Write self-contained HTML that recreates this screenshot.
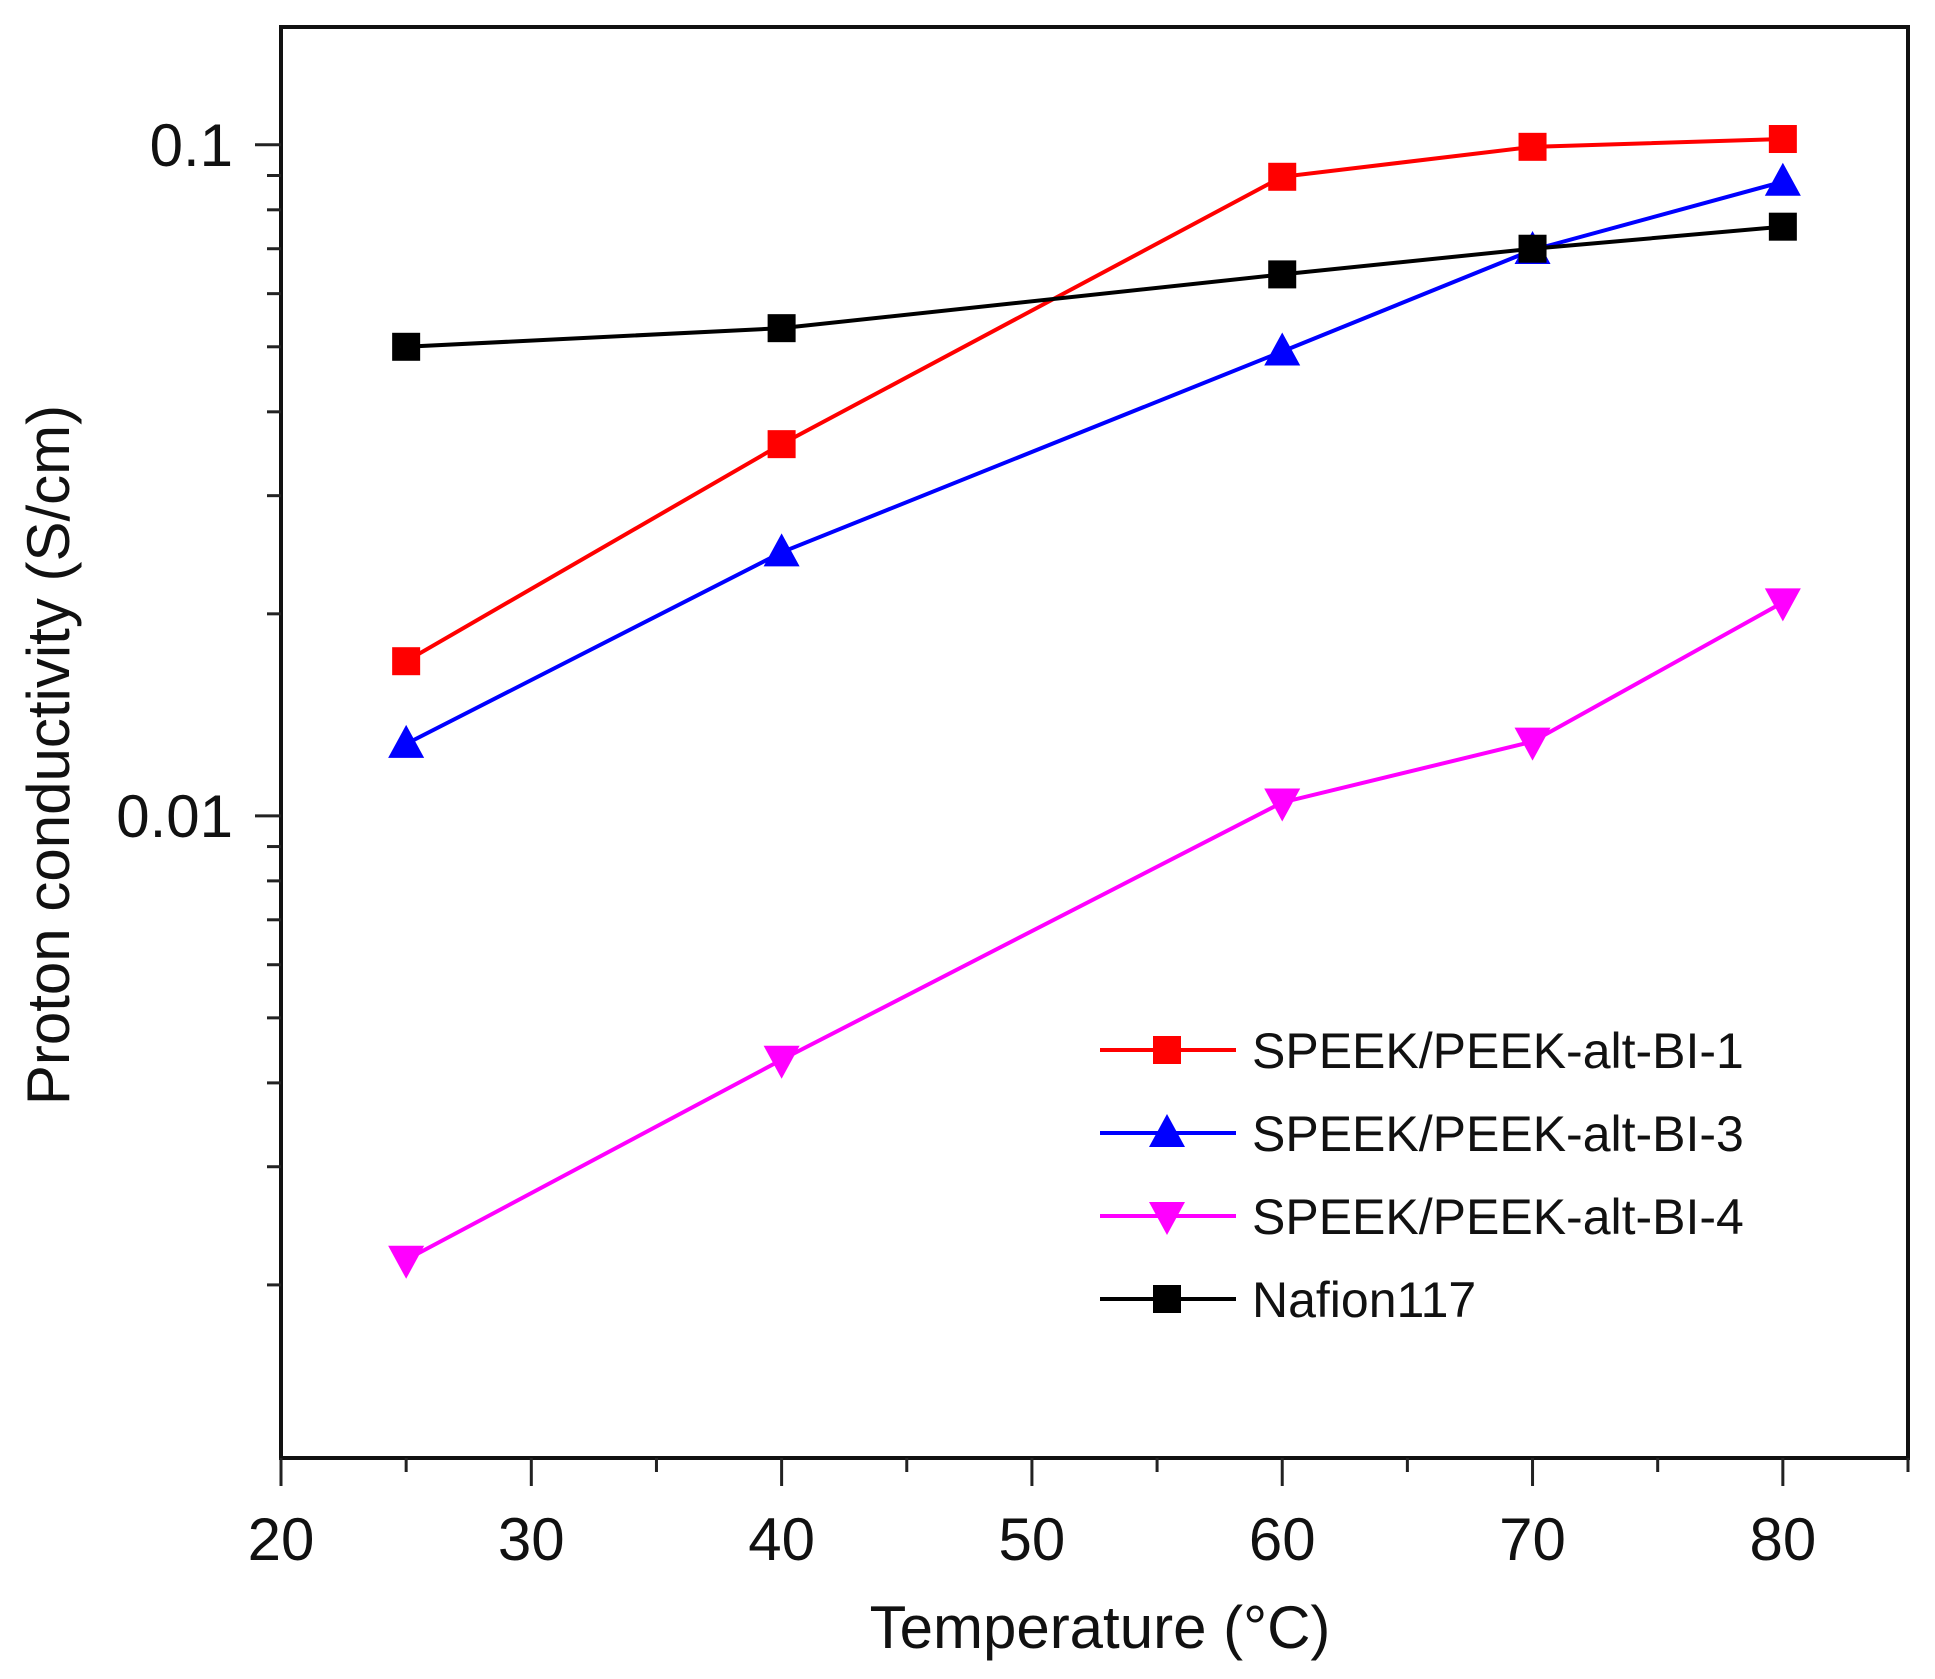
<!DOCTYPE html>
<html><head><meta charset="utf-8"><style>
html,body{margin:0;padding:0;background:#fff;}
svg{display:block;font-family:"Liberation Sans",Arial,sans-serif;}
</style></head><body>
<svg id="chart" width="1935" height="1679" viewBox="0 0 1935 1679" xmlns="http://www.w3.org/2000/svg">
<rect width="1935" height="1679" fill="#fff"/>
<g id="series"></g>
<g id="axes"></g>
<g id="legend"></g>
</svg>
<script>
const temps = [25, 40, 60, 70, 80];
const bi1 = [0.0170, 0.0358, 0.0896, 0.0993, 0.1020];
const bi3 = [0.0128, 0.0247, 0.0492, 0.0697, 0.0881];
const bi4 = [0.00218, 0.00433, 0.01047, 0.0129, 0.0208];
const nafion = [0.0500, 0.0533, 0.0641, 0.0700, 0.0755];
const xTicks = [20, 30, 40, 50, 60, 70, 80];
const xTickLabels = ["20", "30", "40", "50", "60", "70", "80"];
const yTicks = [0.01, 0.1];
const yTickLabels = ["0.01", "0.1"];
const seriesNames = ["SPEEK/PEEK-alt-BI-1", "SPEEK/PEEK-alt-BI-3", "SPEEK/PEEK-alt-BI-4", "Nafion117"];

const NS = "http://www.w3.org/2000/svg";
const L = 281, R = 1908, T = 27, B = 1458;
const X0 = 20, X1 = 85;
const Y0 = Math.log10(0.0011043), Y1 = Math.log10(0.1498);
function xs(v){ return L + (v - X0) / (X1 - X0) * (R - L); }
function ys(v){ return B - (Math.log10(v) - Y0) / (Y1 - Y0) * (B - T); }
function mk(tag, attrs, parent){
  const e = document.createElementNS(NS, tag);
  for (const k in attrs) e.setAttribute(k, attrs[k]);
  parent.appendChild(e);
  return e;
}
const axes = document.getElementById('axes');
const series = document.getElementById('series');
const legend = document.getElementById('legend');

const frame = mk('rect', {x:L, y:T, width:R-L, height:B-T, fill:'none', stroke:'#111', 'stroke-width':4}, axes);



for (let v = 20; v <= 85; v += 5) {
  const major = (v % 10 === 0);
  const t = mk('line', {x1:xs(v), x2:xs(v), y1:B, y2:B + (major ? 28 : 14), stroke:'#222', 'stroke-width':3}, axes);
  
  
}
xTicks.forEach((v, i) => {
  const t = mk('text', {x:xs(v), y:1560, 'font-size':60, 'text-anchor':'middle', fill:'#111'}, axes);
  t.textContent = xTickLabels[i];
  
  
});
[0.002,0.003,0.004,0.005,0.006,0.007,0.008,0.009,0.02,0.03,0.04,0.05,0.06,0.07,0.08,0.09].forEach(v => {
  const t = mk('line', {x1:L-14, x2:L, y1:ys(v), y2:ys(v), stroke:'#222', 'stroke-width':3}, axes);
  
  
});
yTicks.forEach((v, i) => {
  const t = mk('line', {x1:L-26, x2:L, y1:ys(v), y2:ys(v), stroke:'#222', 'stroke-width':3}, axes);
  
  
  const lb = mk('text', {x:233, y:ys(v)+21, 'font-size':60, 'text-anchor':'end', fill:'#111'}, axes);
  lb.textContent = yTickLabels[i];
  
  
});
const xt = mk('text', {x:1100, y:1648, 'font-size':60, 'text-anchor':'middle', fill:'#111'}, axes);
xt.textContent = 'Temperature (°C)';


const yt = mk('text', {x:0, y:0, 'font-size':60, 'text-anchor':'middle', fill:'#111', transform:'translate(69,755) rotate(-90)'}, axes);
yt.textContent = 'Proton conductivity (S/cm)';



function marker(shape, cx, cy, color, parent){
  let e;
  if (shape === 'square') e = mk('rect', {x:cx-14, y:cy-14, width:28, height:28, fill:color}, parent);
  else if (shape === 'up') e = mk('polygon', {points:`${cx},${cy-19} ${cx-18},${cy+14} ${cx+18},${cy+14}`, fill:color}, parent);
  else e = mk('polygon', {points:`${cx},${cy+19} ${cx-18},${cy-14} ${cx+18},${cy-14}`, fill:color}, parent);
  return e;
}
const defs = [
  {vals:bi1, color:'#ff0000', shape:'square', key:'bi-1'},
  {vals:bi3, color:'#0000ff', shape:'up', key:'bi-3'},
  {vals:bi4, color:'#ff00ff', shape:'down', key:'bi-4'},
  {vals:nafion, color:'#000000', shape:'square', key:'nafion117'}
];
defs.forEach((d, si) => {
  const g = mk('g', {}, series);
  
  
  const pts = temps.map((t, i) => xs(t) + ',' + ys(d.vals[i])).join(' ');
  const pl = mk('polyline', {points:pts, fill:'none', stroke:d.color, 'stroke-width':4}, g);
  
  
  temps.forEach((t, i) => {
    const m = marker(d.shape, xs(t), ys(d.vals[i]), d.color, g);
    
    
  });
  const ly = 1050 + si * 83;
  const lg = mk('g', {}, legend);
  
  
  mk('line', {x1:1100, x2:1236, y1:ly, y2:ly, stroke:d.color, 'stroke-width':4}, lg);
  marker(d.shape, 1167, ly, d.color, lg);
  const tx = mk('text', {x:1252, y:ly+18, 'font-size':50, fill:'#111'}, lg);
  tx.textContent = seriesNames[si];
});
</script>
</body></html>
